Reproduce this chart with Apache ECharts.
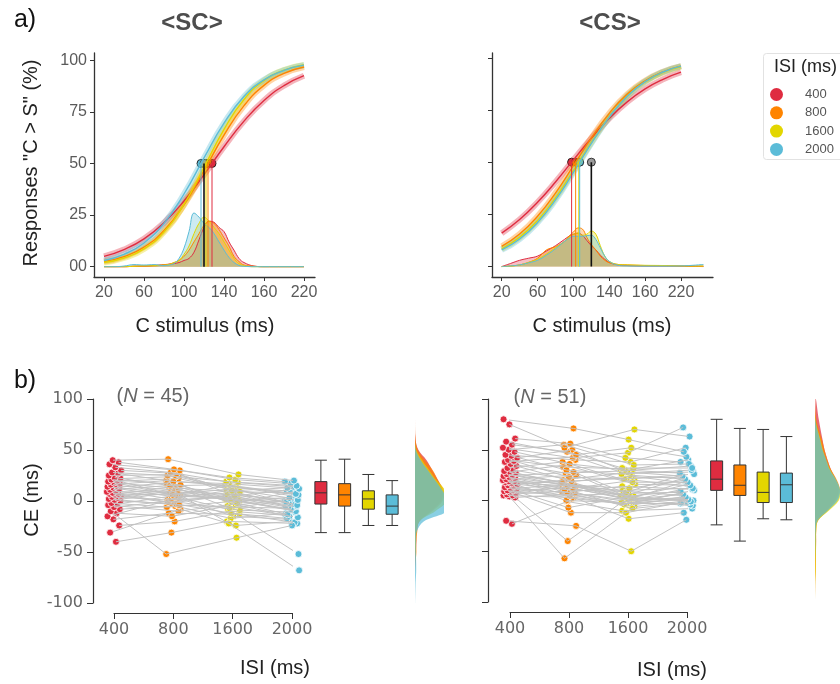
<!DOCTYPE html>
<html>
<head>
<meta charset="utf-8">
<script src="https://cdn.jsdelivr.net/npm/echarts@6/dist/echarts.min.js"></script>
<style>
html, body { margin: 0; padding: 0; background: #fff; }
#chart { width: 840px; height: 684px; }
</style>
</head>
<body>
<div id="chart"></div>
<script>
// ---------- data ----------
const isiNames = ['400', '800', '1600', '2000'];
const isiColors = ['#df2c40', '#ff8400', '#e3d600', '#5bbcd8'];

// a) psychometric panels
const stimTicks = [20, 60, 100, 140, 180, 220];
const stimTickLabels = ['20', '60', '100', '140', '160', '220'];
const pctTicks = [0, 25, 50, 75, 100];
const pctTickLabels = ['00', '25', '50', '75', '100'];

const curveX = [20, 40, 60, 80, 100, 120, 140, 160, 180, 200, 220];
const scCurve400 = [5.0, 8.3, 13.5, 21.3, 31.8, 44.6, 58.1, 70.5, 80.5, 87.7, 92.5];
const scCurve800 = [2.5, 4.9, 9.5, 17.5, 30.0, 46.5, 63.7, 78.0, 87.8, 93.6, 96.7];
const scCurve1600 = [2.0, 4.2, 8.6, 16.8, 30.2, 48.1, 66.5, 81.0, 90.1, 95.2, 97.7];
const scCurve2000 = [3.0, 6.0, 11.5, 21.0, 35.2, 52.7, 69.5, 82.4, 90.5, 95.1, 97.6];
const csCurve400 = [16.0, 22.5, 30.8, 40.5, 51.1, 61.5, 71.0, 78.9, 85.1, 89.7, 93.1];
const csCurve800 = [9.7, 15.6, 24.1, 35.2, 48.3, 61.6, 73.4, 82.6, 89.0, 93.3, 96.0];
const csCurve1600 = [8.5, 14.0, 22.0, 32.8, 45.9, 59.5, 71.8, 81.6, 88.5, 93.0, 95.8];
const csCurve2000 = [8.0, 13.2, 21.1, 31.9, 45.1, 59.0, 71.6, 81.6, 88.6, 93.2, 96.0];

const scDensX = [20, 30, 40, 50, 60, 70, 80, 85, 90, 95, 100, 105, 110, 115, 120, 125, 130, 135, 140, 145, 150, 155, 160, 170, 180, 200, 220];
const scDens400 = [0, 0, 0, 0.2, 0.3, 0.6, 1, 1.2, 1.5, 2, 3, 4, 7, 13, 19, 22, 21.5, 19, 17, 12, 8, 4, 2, 0.3, 0, 0, 0];
const scDens800 = [0, 0, 0, 0.2, 0.3, 0.4, 0.8, 1.2, 2, 3, 5, 8, 12, 16, 20, 22, 21, 18, 14, 10, 5, 2.5, 0.8, 0.2, 0, 0, 0];
const scDens1600 = [0, 0, 0, 0.2, 0.4, 0.5, 0.8, 1, 2, 3, 6, 10, 16, 21, 24, 22, 19, 16, 12, 8, 4, 1.5, 0.5, 0, 0, 0, 0];
const scDens2000 = [0, 0, 0.3, 1, 0.8, 1, 0.5, 0.8, 1.5, 4, 9, 17, 26, 24, 21, 19, 16, 12, 8, 4.5, 2, 0.6, 0.2, 0, 0, 0, 0];

const csDensX = [20, 30, 40, 50, 60, 70, 80, 90, 95, 100, 105, 110, 115, 120, 125, 130, 135, 140, 150, 160, 180, 200, 220, 245];
const csDens400 = [0, 1.5, 3, 4, 5, 7.5, 10, 13, 14.5, 15.5, 16, 15, 12.5, 10, 8, 5.5, 3.5, 2, 0.8, 0.5, 0.3, 0.3, 0.2, 0];
const csDens800 = [0, 0.3, 0.8, 2, 4, 8, 9.5, 12, 14.5, 16.5, 18.5, 18, 14, 10.5, 8, 5, 3, 1.8, 1, 0.8, 0.5, 0.4, 0.3, 0.2];
const csDens1600 = [0, 0.2, 0.8, 2, 3.5, 6, 9, 12, 14, 15.5, 16, 15, 15.5, 17, 15.5, 10, 5, 2.5, 1, 0.8, 0.6, 0.5, 0.3, 0.2];
const csDens2000 = [0, 0.3, 0.8, 1.8, 3, 5.5, 8.5, 12, 13.5, 14.5, 14.5, 14.5, 14.8, 15, 13, 9, 5, 2.5, 0.6, 0.3, 0.2, 0.2, 0.3, 1];

const scPse = [128, 124, 122, 117];
const scPseMean = 120;
const csPse = [98, 102.5, 106, 107];
const csPseMean = 120;

// b) constant error per subject: [400, 800, 1600, 2000]
const scSubjects = [
  [-40, -31, -20, -22], [-31, -8, -24, -20], [-24, -20, -10, -14], [-18, -12, -13, -21],
  [-15, 3, -15, -18], [-12, -15, -5, -16], [-10, -52, -36, -24], [-8, -5, -17, -12],
  [-6, 0, -9, -11], [-4, -10, -3, -15], [-3, 5, -8, -52], [-2, -6, 0, -9],
  [0, -3, -12, -17], [1, 8, 2, -10], [2, -4, -6, -7], [3, 10, -22, -68],
  [4, 1, 4, -6], [5, 12, -1, -13], [6, -2, 5, -5], [7, 6, 1, -8],
  [7, 14, -7, 0], [8, -1, 7, -3], [9, 9, 3, -6], [10, 2, 10, -4],
  [11, 16, -4, 2], [12, 4, 8, -5], [13, 18, 0, 4], [14, 7, 12, -2],
  [15, 11, 6, 1], [16, 20, 14, 5], [17, 5, 2, -1], [18, 13, 9, 8],
  [19, 22, 11, 3], [20, 6, 15, 6], [21, 17, -2, 9], [22, 24, 13, 10],
  [23, 15, 16, 7], [25, 26, 5, 11], [27, 19, 17, 12], [28, 25, 18, 14],
  [30, 27, 10, 13], [33, 28, 19, 15], [36, 30, 21, 17], [38, 31, 23, 19],
  [40, 41, 26, 20]
];
const csSubjects = [
  [-23, -1, -10, -8], [-20, -25, -50, -19], [3, 6, -3, -3], [4, -57, -6, 0],
  [5, 3, -18, -12], [5, -40, -1, -5], [6, 9, -2, 1], [7, -12, -12, -2],
  [8, 13, 1, -4], [9, 5, -5, 4], [10, -7, 3, 0], [10, 12, -8, -2],
  [11, 2, -3, 7], [12, 15, 5, -1], [13, 7, 0, 2], [14, 4, -4, 10],
  [15, 20, 2, 1], [16, 10, 9, 5], [17, 0, -2, 13], [18, 14, 0, 3],
  [19, 5, 7, 8], [19, 17, 4, 16], [20, 12, 1, 6], [21, 8, 14, 11],
  [21, 25, 2, 19], [22, 15, 4, 9], [23, 11, 20, 14], [24, 28, 6, 22],
  [25, 14, 10, 12], [26, 18, 24, 17], [27, 16, 8, 25], [28, 35, 16, 15],
  [29, 15, 12, 20], [30, 21, 27, 28], [32, 38, 18, 18], [34, 19, 22, 23],
  [36, 27, 29, 34], [38, 43, 25, 21], [39, 23, 21, 26], [40, 33, 31, 40],
  [42, 50, 28, 24], [44, 30, 26, 30], [45, 40, 38, 52], [48, 36, 30, 27],
  [50, 55, 35, 36], [52, 42, 47, 72], [55, 48, 32, 32], [58, 45, 52, 43],
  [61, 56, 42, 38], [75, 52, 70, 63], [80, 71, 60, 48]
];

// box stats: [lower whisker, Q1, median, Q3, upper whisker]
const scBoxes = [[-31, -3, 8, 19, 40], [-31, -5, 6, 17, 41], [-24, -8, 2, 10, 26], [-24, -13, -5, 6, 20]];
const csBoxes = [[-24, 10, 21, 39, 80], [-40, 5, 15, 35, 71], [-18, -2, 8, 28, 70], [-19, -2, 15.5, 27, 63]];

// marginal densities of CE
const ceGrid = [100, 80, 60, 50, 40, 30, 20, 10, 0, -10, -20, -30, -40, -50, -60, -70, -80, -100];
const scCe400 = [0, 0, 0.02, 0.12, 0.4, 0.6, 0.8, 0.95, 0.9, 0.55, 0.15, 0.06, 0.05, 0.03, 0.01, 0, 0, 0];
const scCe800 = [0, 0, 0.02, 0.1, 0.35, 0.62, 0.8, 1.0, 0.95, 0.6, 0.15, 0.08, 0.04, 0.05, 0.02, 0, 0, 0];
const scCe1600 = [0, 0, 0, 0.05, 0.25, 0.5, 0.75, 1.05, 1.1, 0.7, 0.15, 0.05, 0.04, 0.02, 0, 0, 0, 0];
const scCe2000 = [0, 0, 0, 0.03, 0.2, 0.45, 0.7, 0.95, 1.15, 1.1, 0.3, 0.06, 0.03, 0.03, 0.04, 0.04, 0.02, 0];
const csCe400 = [0.02, 0.15, 0.3, 0.38, 0.5, 0.65, 0.85, 0.95, 0.8, 0.45, 0.08, 0.03, 0.02, 0.01, 0, 0, 0, 0];
const csCe800 = [0, 0.05, 0.28, 0.38, 0.5, 0.65, 0.88, 1.0, 0.85, 0.5, 0.12, 0.05, 0.05, 0.04, 0.04, 0.03, 0.01, 0];
const csCe1600 = [0, 0.02, 0.22, 0.32, 0.45, 0.62, 0.85, 1.0, 0.95, 0.55, 0.12, 0.05, 0.04, 0.04, 0.03, 0.03, 0.01, 0];
const csCe2000 = [0, 0.01, 0.2, 0.3, 0.45, 0.6, 0.85, 1.0, 0.9, 0.5, 0.1, 0.03, 0.02, 0.01, 0, 0, 0, 0];

// ---------- helpers ----------
const pairs = (xs, ys) => xs.map((x, i) => [x, ys[i]]);
// horizontal jitter of a subject's dot, in category units (layout only)
const jitter = (s, k) => ((((s + 1) * 37 + k * 17) % 23) / 22 - 0.5) * 0.24;

const axisColor = '#333';
const sansFont = '"Liberation Sans", Arial, sans-serif';
const dejaFont = '"DejaVu Sans", Verdana, sans-serif';

function stimAxis(gi, min, max) {
  return {
    type: 'value', gridIndex: gi, min: min, max: max,
    axisLine: { show: true, onZero: false, lineStyle: { color: axisColor, width: 1.3 } },
    axisTick: { show: true, length: 4, customValues: stimTicks, lineStyle: { color: axisColor } },
    axisLabel: {
      customValues: stimTicks, margin: 8, color: '#5a5a5a', fontSize: 16, fontFamily: sansFont,
      formatter: v => stimTickLabels[stimTicks.indexOf(v)]
    },
    splitLine: { show: false }
  };
}
function pctAxis(gi, max, labels) {
  return {
    type: 'value', gridIndex: gi, min: -5, max: max,
    axisLine: { show: true, onZero: false, lineStyle: { color: axisColor, width: 1.3 } },
    axisTick: { show: true, length: 4, customValues: pctTicks, lineStyle: { color: axisColor } },
    axisLabel: {
      show: labels, customValues: pctTicks, margin: 7, color: '#5a5a5a', fontSize: 16, fontFamily: sansFont,
      formatter: v => pctTickLabels[pctTicks.indexOf(v)]
    },
    splitLine: { show: false }
  };
}
function isiAxis(gi) {
  return {
    type: 'value', gridIndex: gi, min: 0, max: 3, interval: 1, offset: 10,
    axisLine: { show: true, onZero: false, lineStyle: { color: axisColor, width: 1.2 } },
    axisTick: { show: true, length: 6, lineStyle: { color: axisColor } },
    axisLabel: { margin: 9, color: '#666', fontSize: 16, fontFamily: dejaFont, formatter: v => isiNames[v] },
    splitLine: { show: false }
  };
}
function ceAxis(gi, offset, labels) {
  return {
    type: 'value', gridIndex: gi, min: -100, max: 100, interval: 50, offset: offset,
    axisLine: { show: true, onZero: false, lineStyle: { color: axisColor, width: 1.2 } },
    axisTick: { show: true, length: 6, lineStyle: { color: axisColor } },
    axisLabel: { show: labels, margin: 10, color: '#666', fontSize: 16, fontFamily: dejaFont },
    splitLine: { show: false }
  };
}
const hiddenValue = (gi, min, max) => ({
  type: 'value', gridIndex: gi, min: min, max: max, show: false,
  axisLine: { onZero: false }, splitLine: { show: false }
});

const series = [];

// a) panels
function addPsychPanel(gi, densX, dens, curves, pse, pseMean, named) {
  dens.forEach((d, k) => {
    series.push({
      type: 'line', xAxisIndex: gi, yAxisIndex: gi, data: pairs(densX, d), smooth: 0.4,
      symbol: 'none', silent: true, lineStyle: { color: isiColors[k], width: 1 },
      areaStyle: { color: isiColors[k], opacity: 0.3 }
    });
  });
  curves.forEach((c, k) => {
    series.push({
      type: 'line', xAxisIndex: gi, yAxisIndex: gi, data: pairs(curveX, c), smooth: true,
      symbol: 'none', silent: true, lineStyle: { color: isiColors[k], width: 6, opacity: 0.35 }
    });
  });
  curves.forEach((c, k) => {
    series.push({
      type: 'line', xAxisIndex: gi, yAxisIndex: gi, data: pairs(curveX, c), smooth: true,
      symbol: 'none', silent: true, lineStyle: { color: isiColors[k], width: 1.4 }
    });
  });
  pse.forEach((p, k) => {
    series.push({
      type: 'line', xAxisIndex: gi, yAxisIndex: gi, data: [[p, 0], [p, 50]],
      symbol: 'none', silent: true, lineStyle: { color: isiColors[k], width: 1 }
    });
  });
  series.push({
    type: 'line', xAxisIndex: gi, yAxisIndex: gi, data: [[pseMean, 0], [pseMean, 50]],
    symbol: 'none', silent: true, lineStyle: { color: '#111', width: 1.6 }
  });
  pse.forEach((p, k) => {
    series.push({
      type: 'scatter', name: named ? isiNames[k] : 'pse' + gi + k, xAxisIndex: gi, yAxisIndex: gi,
      data: [[p, 50]], symbolSize: 8,
      itemStyle: { color: isiColors[k], borderColor: '#222', borderWidth: 1, opacity: 1 }
    });
  });
  series.push({
    type: 'scatter', xAxisIndex: gi, yAxisIndex: gi, data: [[pseMean, 50]], symbolSize: 8,
    itemStyle: { color: '#9a9a9a', borderColor: '#333', borderWidth: 1, opacity: 1 }
  });
}
addPsychPanel(0, scDensX, [scDens400, scDens800, scDens1600, scDens2000],
  [scCurve400, scCurve800, scCurve1600, scCurve2000], scPse, scPseMean, true);
addPsychPanel(1, csDensX, [csDens400, csDens800, csDens1600, csDens2000],
  [csCurve400, csCurve800, csCurve1600, csCurve2000], csPse, csPseMean, false);

// b) panels
function addCePanel(gi, boxGi, densGi, subjects, boxes, ceDens) {
  subjects.forEach((row, s) => {
    series.push({
      type: 'line', xAxisIndex: gi, yAxisIndex: gi, clip: false,
      data: row.map((v, k) => [k + jitter(s, k), v]),
      symbol: 'none', silent: true, lineStyle: { color: '#c2c2c2', width: 1 }
    });
  });
  isiNames.forEach((n, k) => {
    series.push({
      type: 'scatter', xAxisIndex: gi, yAxisIndex: gi, symbolSize: 7, clip: false,
      data: subjects.map((row, s) => [k + jitter(s, k), row[k]]),
      itemStyle: { color: isiColors[k], borderColor: '#fff', borderWidth: 0.8, opacity: 1 }
    });
  });
  series.push({
    type: 'boxplot', xAxisIndex: boxGi, yAxisIndex: boxGi, boxWidth: [12, 12], silent: true,
    data: boxes.map((b, k) => ({ value: b, itemStyle: { color: isiColors[k], borderColor: '#333', borderWidth: 1 } }))
  });
  series.push({
    type: 'custom', xAxisIndex: densGi, yAxisIndex: densGi, clip: true, silent: true,
    data: isiNames.map((n, k) => [k, 0]),
    renderItem: function (params, api) {
      const k = params.dataIndex;
      const pts = ceGrid.map((ce, i) => api.coord([ceDens[k][i], ce]));
      return {
        type: 'polygon', shape: { points: pts, smooth: 0.35 },
        style: { fill: isiColors[k], opacity: 0.72, stroke: null }
      };
    }
  });
}
addCePanel(2, 4, 6, scSubjects, scBoxes, [scCe400, scCe800, scCe1600, scCe2000]);
addCePanel(3, 5, 7, csSubjects, csBoxes, [csCe400, csCe800, csCe1600, csCe2000]);

// ---------- texts ----------
function label(text, x, y, opts) {
  const o = opts || {};
  return {
    type: 'text', x: x, y: y, rotation: o.rotation || 0, silent: true,
    style: {
      text: text, fill: o.color || '#222', fontSize: o.size || 20, fontFamily: o.family || sansFont,
      fontWeight: o.weight || 'normal', textAlign: o.align || 'center', textVerticalAlign: 'middle',
      rich: o.rich
    }
  };
}
const italicN = { i: { fontStyle: 'italic', fontSize: 20, fontFamily: sansFont, fill: '#666' } };

const option = {
  animation: false,
  backgroundColor: '#fff',
  grid: [
    { left: 94, top: 53, width: 221, height: 224 },
    { left: 492, top: 53, width: 221, height: 224 },
    { left: 114, top: 399, width: 178, height: 204 },
    { left: 510, top: 399, width: 177, height: 203 },
    { left: 309, top: 399, width: 95, height: 204 },
    { left: 705, top: 399, width: 93, height: 203 },
    { left: 415, top: 399, width: 29, height: 204 },
    { left: 815, top: 399, width: 29, height: 203 }
  ],
  xAxis: [
    stimAxis(0, 10, 231),
    stimAxis(1, 9.2, 255.7),
    isiAxis(2),
    isiAxis(3),
    { type: 'category', gridIndex: 4, data: isiNames, show: false },
    { type: 'category', gridIndex: 5, data: isiNames, show: false },
    hiddenValue(6, 0, 1),
    hiddenValue(7, 0, 1)
  ],
  yAxis: [
    pctAxis(0, 103.5, true),
    pctAxis(1, 102.3, false),
    ceAxis(2, 21, true),
    ceAxis(3, 22, false),
    hiddenValue(4, -100, 100),
    hiddenValue(5, -100, 100),
    hiddenValue(6, -100, 100),
    hiddenValue(7, -100, 100)
  ],
  legend: {
    data: isiNames.map(n => ({ name: n, icon: 'circle' })),
    orient: 'vertical', left: 770, top: 88, padding: 0,
    itemWidth: 13, itemHeight: 13, itemGap: 5.3,
    itemStyle: { borderWidth: 0 },
    textStyle: { color: '#555', fontSize: 13, fontFamily: sansFont, padding: [0, 0, 0, 17] },
    selectedMode: false
  },
  graphic: [
    { type: 'rect', silent: true, shape: { x: 763.5, y: 53.5, width: 90, height: 106, r: 3 },
      style: { fill: 'none', stroke: '#e2e2e2', lineWidth: 1 } },
    label('ISI (ms)', 774, 67, { size: 18, align: 'left' }),
    label('a)', 25, 20, { size: 25, color: '#111' }),
    label('b)', 25, 381, { size: 25, color: '#111' }),
    label('<SC>', 192, 23, { size: 24, weight: 'bold', color: '#4d4d4d' }),
    label('<CS>', 610, 23, { size: 24, weight: 'bold', color: '#4d4d4d' }),
    label('Responses "C > S" (%)', 31, 163, { rotation: Math.PI / 2 }),
    label('C stimulus (ms)', 205, 326),
    label('C stimulus (ms)', 602, 326),
    label('CE (ms)', 32, 500, { rotation: Math.PI / 2 }),
    label('ISI (ms)', 275, 668),
    label('ISI (ms)', 672, 670),
    label('({i|N} = 45)', 153, 396, { color: '#666', rich: italicN }),
    label('({i|N} = 51)', 550, 397, { color: '#666', rich: italicN })
  ],
  series: series
};

const myChart = echarts.init(document.getElementById('chart'));
myChart.setOption(option);
</script>
</body>
</html>
